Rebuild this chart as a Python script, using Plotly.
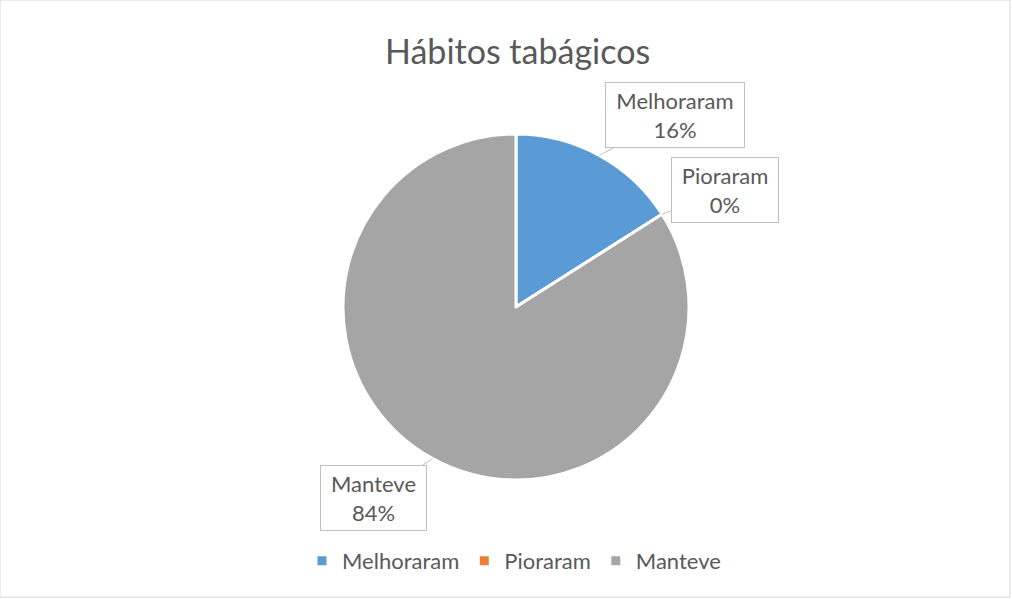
import math
import plotly.graph_objects as go

# data
categories = ["Melhoraram", "Pioraram", "Manteve"]
values = [16, 0, 84]
colors = ["#5B9BD5", "#ED7D31", "#A5A5A5"]
title_text = "Hábitos tabágicos"

W, H = 1012, 599
cx, cy, r = 516, 307, 173  # pie centre / radius in px

fig = go.Figure()
fig.add_trace(go.Pie(
    labels=categories, values=values, sort=False, direction="clockwise",
    rotation=0, textinfo="none", hoverinfo="label+percent",
    marker=dict(colors=colors, line=dict(color="white", width=3)),
    domain=dict(x=[(cx - r) / W, (cx + r) / W], y=[1 - (cy + r) / H, 1 - (cy - r) / H]),
))

# callout labels - tip on the pie edge, from the slice angles
total = sum(values)
# (ax, ay, box width)
callouts = {"Melhoraram": (76, -40, 132), "Pioraram": (63, -24, 100), "Manteve": (-59, 39, 99)}
cum = 0
for cat, v in zip(categories, values):
    frac = cum / total + (v / total) / 2
    cum += v
    ang = 2 * math.pi * frac
    tx = cx + r * math.sin(ang)
    ty = cy - r * math.cos(ang)
    ax, ay, bw = callouts[cat]
    fig.add_annotation(
        x=tx / W, y=1 - ty / H, xref="paper", yref="paper",
        text=f"{cat}<br>{round(100 * v / total)}%",
        showarrow=True, arrowhead=0, arrowwidth=1, arrowcolor="#bfbfbf",
        ax=ax, ay=ay, standoff=0, width=bw, height=58,
        bordercolor="#bfbfbf", borderwidth=1, borderpad=3, bgcolor="white",
        font=dict(family="Lato", size=22, color="#595959"),
    )

fig.add_annotation(x=517 / W, y=1 - 50 / H, xref="paper", yref="paper", showarrow=False,
                   yanchor="middle", text=title_text,
                   font=dict(family="Lato", size=34, color="#595959"))

fig.add_shape(type="rect", xref="paper", yref="paper", x0=0, x1=0.998, y0=0.003, y1=1,
              line=dict(color="#d9d9d9", width=1))

fig.update_layout(
    width=W, height=H, margin=dict(l=0, r=0, t=0, b=0),
    paper_bgcolor="white", plot_bgcolor="white",
    showlegend=True,
    legend=dict(orientation="h", x=514 / W, xanchor="center", y=1 - 561 / H, yanchor="middle",
                font=dict(family="Lato", size=22, color="#595959"), itemwidth=30),
)

fig.write_html("out.html", config={"displayModeBar": False},
               post_script="document.body.style.margin='0';")
